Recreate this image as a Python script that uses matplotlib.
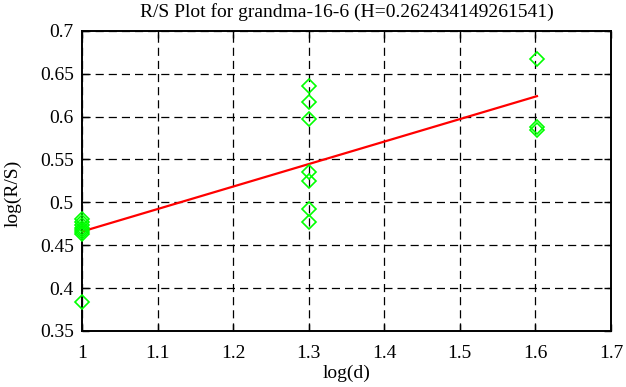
import numpy as np
import matplotlib
matplotlib.use('Agg')
import matplotlib.pyplot as plt

plt.rcParams['font.family'] = ['Liberation Serif', 'DejaVu Serif']

# points
log_d = [1.0, 1.0, 1.0, 1.0, 1.0, 1.0, 1.0, 1.0,
         1.30103, 1.30103, 1.30103, 1.30103, 1.30103, 1.30103, 1.30103,
         1.60206, 1.60206, 1.60206]
log_rs = [0.384, 0.481, 0.477, 0.473, 0.470, 0.468, 0.465, 0.463,
          0.636, 0.6175, 0.597, 0.535, 0.525, 0.492, 0.4775,
          0.667, 0.588, 0.585]

H = 0.262434149261541
intercept = 0.2035
fit_x = [1.0, 1.60206]

fig = plt.figure(figsize=(6.26, 3.87), dpi=100)
ax = fig.add_axes([0.131, 0.145, 0.845, 0.775])

fx = np.array(fit_x)
ax.plot(fx, intercept + H * fx, color='red', lw=1.6, zorder=3)
ax.plot(log_d, log_rs, 'D', mfc='none', mec='#00ff00', ms=7.6, mew=1.2,
        zorder=4, clip_on=False)

ax.set_xlim(1, 1.7)
ax.set_ylim(0.35, 0.7)
ax.set_xticks(np.arange(1, 1.71, 0.1))
ax.set_xticklabels(['1', '1.1', '1.2', '1.3', '1.4', '1.5', '1.6', '1.7'])
ax.set_yticks(np.arange(0.35, 0.701, 0.05))
ax.set_yticklabels(['0.35', '0.4', '0.45', '0.5', '0.55', '0.6', '0.65', '0.7'])
ax.tick_params(direction='in', top=True, right=True, length=5, width=1,
               labelsize=14, pad=6)
ax.tick_params(axis='x', pad=10)
ax.grid(True, color='black', ls=(0, (6.5, 4)), lw=0.9)
for s in ax.spines.values():
    s.set_linewidth(1.4)

ax.set_xlabel('log(d)', fontsize=14, labelpad=2)
ax.set_ylabel('log(R/S)', fontsize=14, labelpad=8)
ax.yaxis.set_label_coords(-0.115, 0.46)
ax.set_title('R/S Plot for grandma-16-6 (H=0.262434149261541)', fontsize=14, pad=10)

fig.savefig('out.png', dpi=100)
